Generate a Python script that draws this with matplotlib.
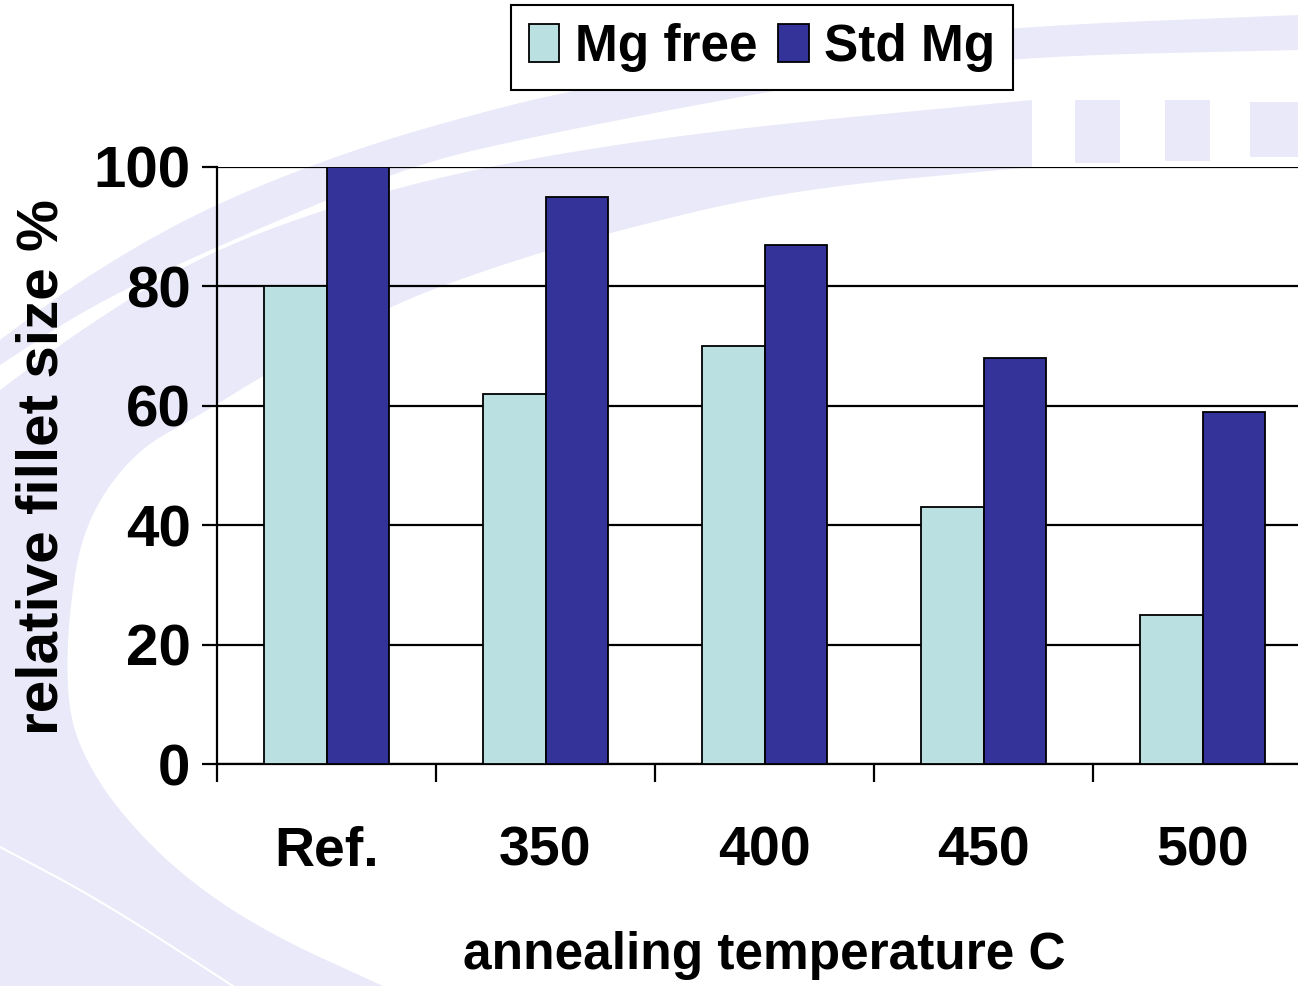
import matplotlib
matplotlib.use('Agg')
import matplotlib.pyplot as plt
import numpy as np
from matplotlib.patches import Polygon, Rectangle

# data
categories = ['Ref.', '350', '400', '450', '500']
mg_free = [80, 62, 70, 43, 25]
std_mg = [100, 95, 87, 68, 59]
yticks = [0, 20, 40, 60, 80, 100]

plt.rcParams['font.family'] = 'Liberation Sans'
plt.rcParams['font.weight'] = 'bold'

W, H = 1298, 986
fig = plt.figure(figsize=(W / 100, H / 100), dpi=100)


def smooth(pts, n=4):
    # chaikin corner cutting, keeps end points
    p = np.array(pts, dtype=float)
    for _ in range(n):
        q = [p[0]]
        for a, b in zip(p[:-1], p[1:]):
            q.append(0.75 * a + 0.25 * b)
            q.append(0.25 * a + 0.75 * b)
        q.append(p[-1])
        p = np.array(q)
    return p


# background decoration of the slide (light lavender swoosh)
bg = fig.add_axes([0, 0, 1, 1], zorder=-1)
bg.set_xlim(0, W)
bg.set_ylim(H, 0)
bg.axis('off')
lav = '#E9E9F9'

b_outer = smooth([(1298, 15), (1000, 27), (800, 52), (600, 85), (500, 107), (350, 150),
                  (200, 210), (80, 280), (0, 340)])
b_inner = smooth([(0, 365), (100, 300), (250, 232), (400, 170), (500, 143), (800, 85),
                  (1000, 57), (1298, 50)])
bg.add_patch(Polygon(np.vstack([b_outer, b_inner]), closed=True, facecolor=lav, edgecolor='none'))

a_outer = smooth([(1032, 100), (714, 130), (500, 163), (350, 200), (200, 255), (80, 330),
                  (0, 390)])
a_inner = smooth([(383, 986), (267, 933), (183, 877), (117, 810), (80, 750), (67, 700),
                  (68, 620), (83, 525), (133, 452), (200, 415), (267, 373), (390, 305),
                  (500, 265), (607, 233), (786, 190), (1032, 167)])
bg.add_patch(Polygon(np.vstack([a_outer, [(0, 986)], a_inner]), closed=True,
                     facecolor=lav, edgecolor='none'))
wl = smooth([(0, 847), (100, 900), (233, 986)])
bg.plot(wl[:, 0], wl[:, 1], color='white', lw=1.5)
for x0, y0, w, h in [(1075, 100, 45, 63), (1165, 100, 45, 61), (1250, 102, 48, 55)]:
    bg.add_patch(Rectangle((x0, y0), w, h, facecolor=lav, edgecolor='none'))

# main chart
ax = fig.add_axes([217 / W, 1 - 764 / H, (1312 - 217) / W, (764 - 167) / H])
ax.set_facecolor('none')
x = np.arange(len(categories))
w = 1 / 3.5
b1 = ax.bar(x - w / 2, mg_free, w, color='#BAE0E2', edgecolor='black', linewidth=1.3,
            label='Mg free', zorder=3)
b2 = ax.bar(x + w / 2, std_mg, w, color='#333399', edgecolor='black', linewidth=1.3,
            label='Std Mg', zorder=3)

ax.set_xlim(-0.5, 4.5)
ax.set_ylim(0, 100)
ax.set_yticks(yticks)
ax.yaxis.grid(True, color='black', linewidth=1.6, zorder=0)
ax.set_axisbelow(True)
ax.tick_params(axis='y', direction='out', length=11, width=1.6, pad=8, labelsize=42)

ax.set_xticks(np.arange(-0.5, 4.5, 1))
ax.set_xticklabels([])
ax.set_xticks(x, minor=True)
ax.set_xticklabels(categories, minor=True, fontsize=40)
ax.tick_params(axis='x', which='major', direction='out', length=13, width=1.6)
ax.tick_params(axis='x', which='minor', length=0, pad=44)

for s in ['top', 'right']:
    ax.spines[s].set_visible(False)
for s in ['left', 'bottom']:
    ax.spines[s].set_linewidth(1.6)

fig.text(43 / W, 1 - 467 / H, 'relative fillet size %', rotation=90,
         ha='center', va='center', fontsize=42, fontweight='bold')
fig.text(764 / W, 1 - 955 / H, 'annealing temperature C',
         ha='center', va='center', fontsize=37, fontweight='bold')

leg = fig.legend(handles=[b1, b2], loc='upper center', bbox_to_anchor=(762 / W, 1 - 5 / H),
                 ncol=2, fontsize=37, frameon=True, fancybox=False, framealpha=1,
                 edgecolor='black', borderpad=0.35, handlelength=0.6, handleheight=0.75,
                 handletextpad=0.3, columnspacing=0.4, borderaxespad=0)
leg.get_frame().set_linewidth(1.5)

fig.savefig('out.png', dpi=100)
